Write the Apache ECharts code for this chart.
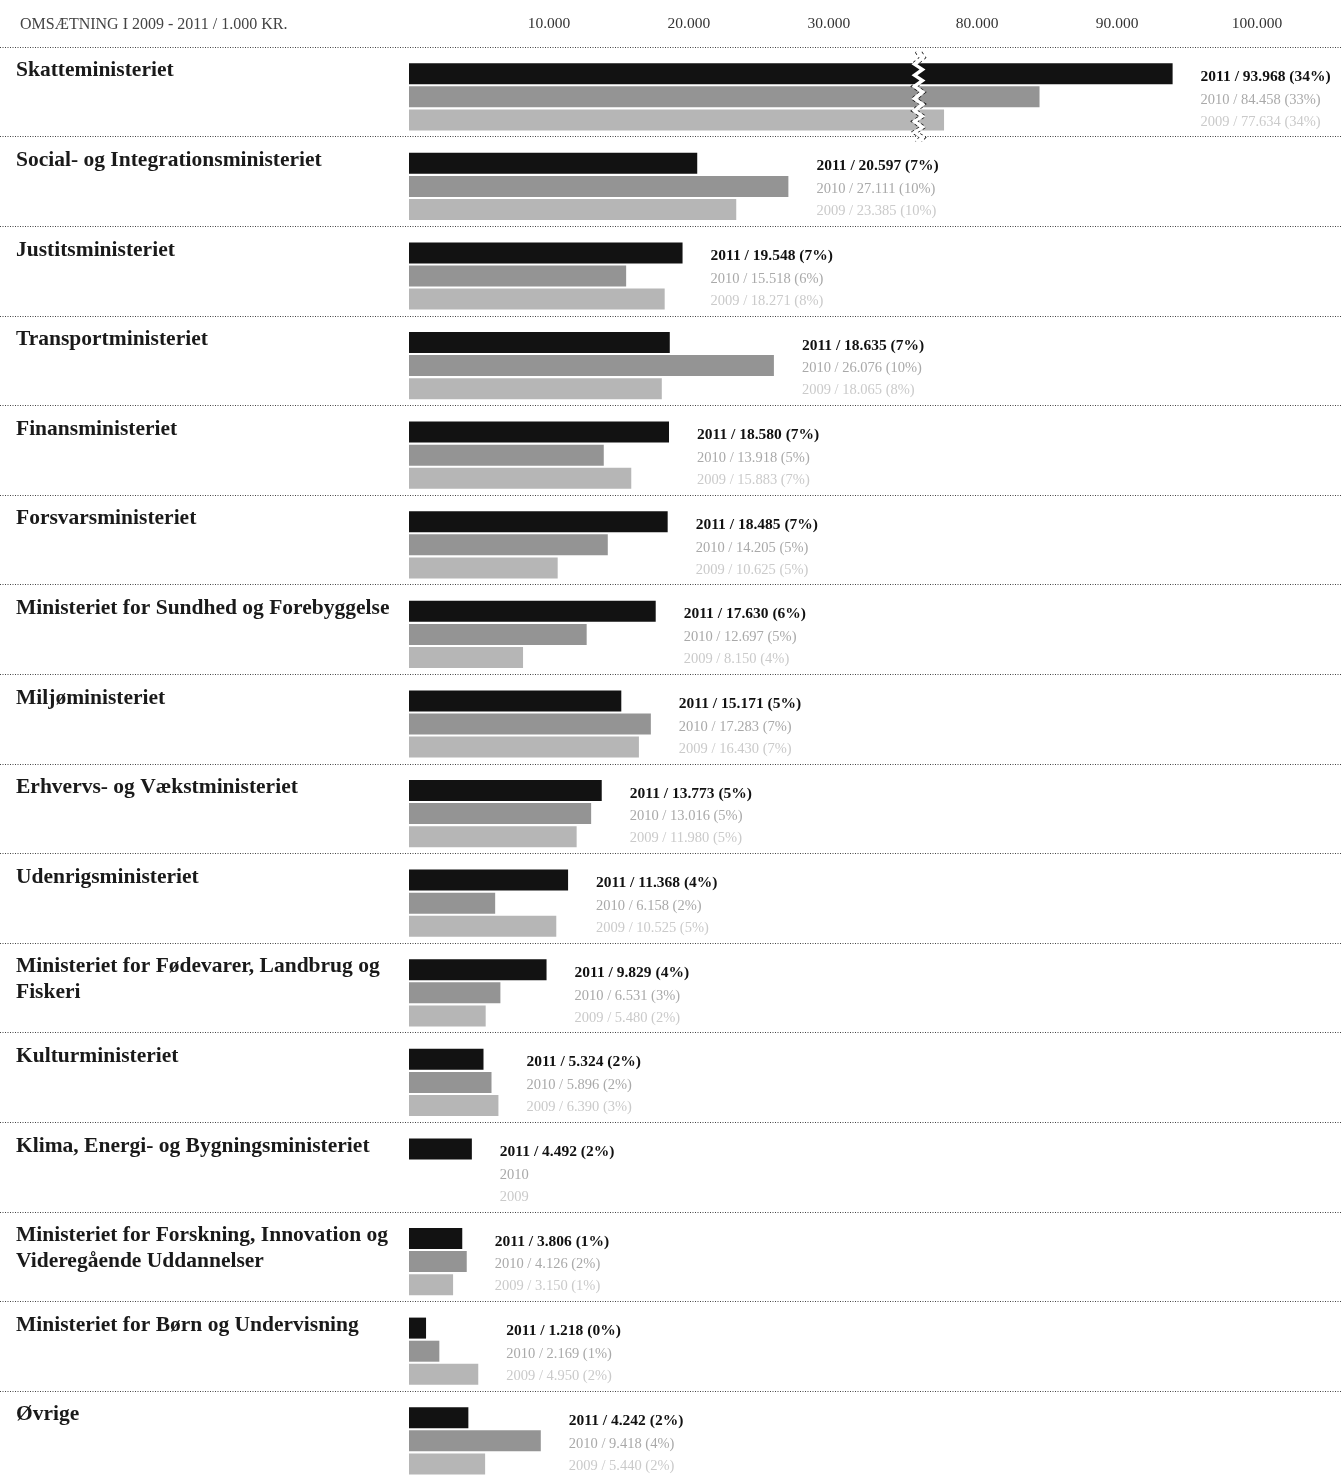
<!DOCTYPE html>
<html>
<head>
<meta charset="utf-8">
<script src="https://cdn.jsdelivr.net/npm/echarts@6.0.0/dist/echarts.min.js"></script>
<style>
  html, body { margin: 0; padding: 0; background: #fff; overflow: hidden; }
  #chart { width: 1341px; height: 1500px; }
</style>
</head>
<body>
<div id="chart"></div>
<script>
var ministries = [
  'Skatteministeriet',
  'Social- og Integrationsministeriet',
  'Justitsministeriet',
  'Transportministeriet',
  'Finansministeriet',
  'Forsvarsministeriet',
  'Ministeriet for Sundhed og Forebyggelse',
  'Miljøministeriet',
  'Erhvervs- og Vækstministeriet',
  'Udenrigsministeriet',
  'Ministeriet for Fødevarer, Landbrug og\nFiskeri',
  'Kulturministeriet',
  'Klima, Energi- og Bygningsministeriet',
  'Ministeriet for Forskning, Innovation og\nVideregående Uddannelser',
  'Ministeriet for Børn og Undervisning',
  'Øvrige'
];
var years = ['2011', '2010', '2009'];
var v2011 = [93968, 20597, 19548, 18635, 18580, 18485, 17630, 15171, 13773, 11368, 9829, 5324, 4492, 3806, 1218, 4242];
var v2010 = [84458, 27111, 15518, 26076, 13918, 14205, 12697, 17283, 13016, 6158, 6531, 5896, null, 4126, 2169, 9418];
var v2009 = [77634, 23385, 18271, 18065, 15883, 10625, 8150, 16430, 11980, 10525, 5480, 6390, null, 3150, 4950, 5440];
var p2011 = [34, 7, 7, 7, 7, 7, 6, 5, 5, 4, 4, 2, 2, 1, 0, 2];
var p2010 = [33, 10, 6, 10, 5, 5, 5, 7, 5, 2, 3, 2, null, 2, 1, 4];
var p2009 = [34, 10, 8, 8, 7, 5, 4, 7, 5, 5, 2, 3, null, 1, 2, 2];
var ticks = [10000, 20000, 30000, 80000, 90000, 100000];
var axisBreak = { start: 36200, end: 76000 };

var fontName = '"Liberation Serif", "DejaVu Serif", serif';

function fmt(n) {
  return String(n).replace(/\B(?=(\d{3})+(?!\d))/g, '.');
}
function makeLabel(year, v, p) {
  if (v == null) return year;
  return year + ' / ' + fmt(v) + ' (' + p + '%)';
}
var lab2011 = [], lab2010 = [], lab2009 = [], maxVal = [];
for (var i = 0; i < ministries.length; i++) {
  lab2011.push(makeLabel(years[0], v2011[i], p2011[i]));
  lab2010.push(makeLabel(years[1], v2010[i], p2010[i]));
  lab2009.push(makeLabel(years[2], v2009[i], p2009[i]));
  maxVal.push(Math.max(v2011[i] || 0, v2010[i] || 0, v2009[i] || 0));
}

var left = 409;
var band = 89.6;
var xMax = 104000;
var plotW = 904;

function labelLines(name) {
  var lines = name.split('\n');
  while (lines.length < 3) lines.push('\u00a0');
  return lines.join('\n');
}

function xAxisFor(gridIndex, showLabels) {
  return {
    type: 'value', gridIndex: gridIndex, position: 'top',
    min: 0, max: xMax,
    breaks: [{ start: axisBreak.start, end: axisBreak.end, gap: 400 }],
    breakArea: {
      show: showLabels,
      expandOnClick: false,
      zigzagAmplitude: 4,
      zigzagMinSpan: 5,
      zigzagMaxSpan: 7,
      zigzagZ: 100,
      itemStyle: { color: '#fff', borderColor: '#111', borderWidth: 1.5, opacity: 1 }
    },
    axisLine: { show: false },
    axisTick: { show: false },
    splitLine: { show: false },
    axisLabel: {
      show: showLabels,
      customValues: ticks,
      margin: 20,
      fontFamily: fontName,
      fontSize: 15.5,
      color: '#333',
      formatter: function (v) { return fmt(v); }
    }
  };
}

function yAxisFor(gridIndex, names) {
  return {
    type: 'category', gridIndex: gridIndex, inverse: true, data: names,
    axisLine: { show: false },
    axisTick: { show: false },
    splitLine: { show: false },
    axisLabel: {
      interval: 0,
      align: 'left',
      margin: left - 16,
      fontFamily: fontName,
      fontWeight: 'bold',
      fontSize: 21.5,
      lineHeight: 26,
      color: '#1a1a1a',
      formatter: labelLines
    }
  };
}

var barColors = ['#121212', '#949494', '#b6b6b6'];
var yearData = [v2011, v2010, v2009];

function labelRender(offset) {
  return function (params, api) {
    var idx = api.value(1);
    var k = idx + offset;
    var p = api.coord([api.value(0), idx]);
    var x = p[0] + 28;
    return {
      type: 'group',
      children: [
        { type: 'text', x: x, y: p[1] - 20,
          style: { text: lab2011[k], font: 'bold 15.5px ' + fontName, fill: '#111', verticalAlign: 'middle' } },
        { type: 'text', x: x, y: p[1] + 3,
          style: { text: lab2010[k], font: '14.5px ' + fontName, fill: '#a9a9a9', verticalAlign: 'middle' } },
        { type: 'text', x: x, y: p[1] + 25,
          style: { text: lab2009[k], font: '14.5px ' + fontName, fill: '#cacaca', verticalAlign: 'middle' } }
      ]
    };
  };
}

var series = [];
[0, 1].forEach(function (g) {
  for (var s = 0; s < 3; s++) {
    series.push({
      name: years[s],
      type: 'bar',
      xAxisIndex: g, yAxisIndex: g,
      barWidth: 21,
      barGap: '10%',
      itemStyle: { color: barColors[s] },
      silent: true,
      data: g === 0 ? yearData[s].slice(0, 1) : yearData[s].slice(1)
    });
  }
  var lbl = [];
  var from = g === 0 ? 0 : 1, to = g === 0 ? 1 : ministries.length;
  for (var i = from; i < to; i++) lbl.push([maxVal[i], i - from]);
  series.push({
    type: 'custom',
    xAxisIndex: g, yAxisIndex: g,
    renderItem: labelRender(from),
    clip: false,
    silent: true,
    z: 5,
    data: lbl
  });
});

var chart = echarts.init(document.getElementById('chart'));
chart.setOption({
  animation: false,
  backgroundColor: '#fff',
  title: {
    text: 'OMSÆTNING I 2009 - 2011 / 1.000 KR.',
    left: 15, top: 12,
    textStyle: { fontFamily: fontName, fontWeight: 'normal', fontSize: 16, color: '#444' }
  },
  grid: [
    { left: left, width: plotW, top: 52, height: band },
    { left: left, width: plotW, top: 47 + band + 5, height: band * 15 },
    { left: 0, right: 0, top: 47, height: band * 16 }
  ],
  xAxis: [
    xAxisFor(0, true),
    xAxisFor(1, false),
    { type: 'value', gridIndex: 2, show: false }
  ],
  yAxis: [
    yAxisFor(0, ministries.slice(0, 1)),
    yAxisFor(1, ministries.slice(1)),
    {
      type: 'category', gridIndex: 2, inverse: true, data: ministries,
      axisLine: { show: false }, axisTick: { show: false }, axisLabel: { show: false },
      splitLine: { show: true, interval: 0, lineStyle: { color: '#444', width: 1, type: [1, 1.5] } }
    }
  ],
  series: series
});
</script>
</body>
</html>
